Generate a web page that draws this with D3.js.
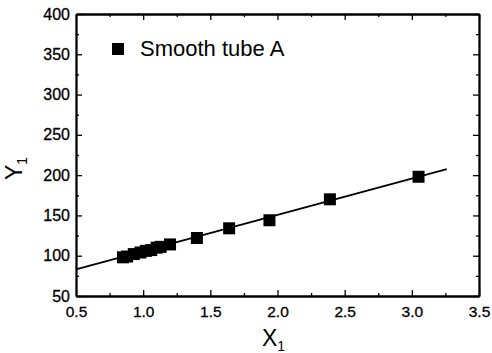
<!DOCTYPE html>
<html lang="en">
<head>
<meta charset="UTF-8">
<title>Smooth tube A</title>
<style>
  body { margin: 0; background: #fff; }
  svg text { font-family: "Liberation Sans", Arial, sans-serif; fill: #000; }
</style>
</head>
<body>
<svg id="chart" width="492" height="353"></svg>
<script src="https://d3js.org/d3.v7.min.js"></script>
<script>
// data
const xVals = [0.85, 0.88, 0.93, 0.98, 1.02, 1.06, 1.10, 1.13, 1.20, 1.40, 1.64, 1.94, 2.39, 3.05];
const yVals = [98, 99, 102, 104, 106, 107, 110, 111, 114, 122, 134, 144, 170, 198];
const fitX = [0.5, 3.26];
const fitY = [83, 207.5];
const xTicks = [0.5, 1.0, 1.5, 2.0, 2.5, 3.0, 3.5];
const yTicks = [50, 100, 150, 200, 250, 300, 350, 400];
const legendLabel = "Smooth tube A";

const svg = d3.select("#chart");
const m = {left: 76, right: 479, top: 14, bottom: 296};

const x = d3.scaleLinear().domain([0.5, 3.5]).range([m.left, m.right]);
const y = d3.scaleLinear().domain([50, 400]).range([m.bottom, m.top]);

const xMinor = d3.range(0.75, 3.5, 0.5);
const yMinor = d3.range(75, 400, 50);

function drawAxis(axis, transform, labels, size) {
  const g = svg.append("g").attr("transform", transform).call(axis);
  g.select(".domain").attr("stroke", "#000").attr("stroke-width", 1.8);
  g.selectAll(".tick line").attr("stroke", "#000").attr("stroke-width", 1.3);
  if (!labels) g.selectAll(".tick text").remove();
  else g.selectAll(".tick text").attr("font-size", size).attr("font-family", null)
    .attr("stroke", "#000").attr("stroke-width", 0.3);
  return g;
}

// major ticks, pointing inward
drawAxis(d3.axisBottom(x).tickValues(xTicks).tickSizeInner(-6).tickSizeOuter(0).tickPadding(10).tickFormat(d3.format(".1f")),
  `translate(0,${m.bottom})`, true, 15.5);
drawAxis(d3.axisTop(x).tickValues(xTicks).tickSizeInner(-6).tickSizeOuter(0), `translate(0,${m.top})`, false);
drawAxis(d3.axisLeft(y).tickValues(yTicks).tickSizeInner(-6).tickSizeOuter(0).tickPadding(6).tickFormat(d3.format("d")),
  `translate(${m.left},0)`, true, 16);
drawAxis(d3.axisRight(y).tickValues(yTicks).tickSizeInner(-6).tickSizeOuter(0), `translate(${m.right},0)`, false);

// minor ticks
drawAxis(d3.axisBottom(x).tickValues(xMinor).tickSizeInner(-3).tickSizeOuter(0), `translate(0,${m.bottom})`, false);
drawAxis(d3.axisTop(x).tickValues(xMinor).tickSizeInner(-3).tickSizeOuter(0), `translate(0,${m.top})`, false);
drawAxis(d3.axisLeft(y).tickValues(yMinor).tickSizeInner(-3).tickSizeOuter(0), `translate(${m.left},0)`, false);
drawAxis(d3.axisRight(y).tickValues(yMinor).tickSizeInner(-3).tickSizeOuter(0), `translate(${m.right},0)`, false);

// fit line
const line = d3.line().x(d => x(d[0])).y(d => y(d[1]));
svg.append("path")
  .datum(d3.zip(fitX, fitY))
  .attr("d", line)
  .attr("fill", "none")
  .attr("stroke", "#000")
  .attr("stroke-width", 1.8);

// markers
const s = 12;
svg.append("g").selectAll("rect")
  .data(d3.zip(xVals, yVals))
  .join("rect")
  .attr("x", d => x(d[0]) - s / 2)
  .attr("y", d => y(d[1]) - s / 2)
  .attr("width", s)
  .attr("height", s)
  .attr("fill", "#000");

// legend
svg.append("rect").attr("x", 112).attr("y", 43).attr("width", 12).attr("height", 12).attr("fill", "#000");
svg.append("text").attr("x", 140).attr("y", 56).attr("font-size", 22).text(legendLabel);

// axis titles
const xt = svg.append("text").attr("x", 262).attr("y", 346).attr("font-size", 23);
xt.append("tspan").text("X");
xt.append("tspan").attr("font-size", 14).attr("dy", 5).text("1");

const yt = svg.append("text").attr("transform", "translate(22,180) rotate(-90)").attr("font-size", 23);
yt.append("tspan").text("Y");
yt.append("tspan").attr("font-size", 14).attr("dy", 5).text("1");
</script>
</body>
</html>
